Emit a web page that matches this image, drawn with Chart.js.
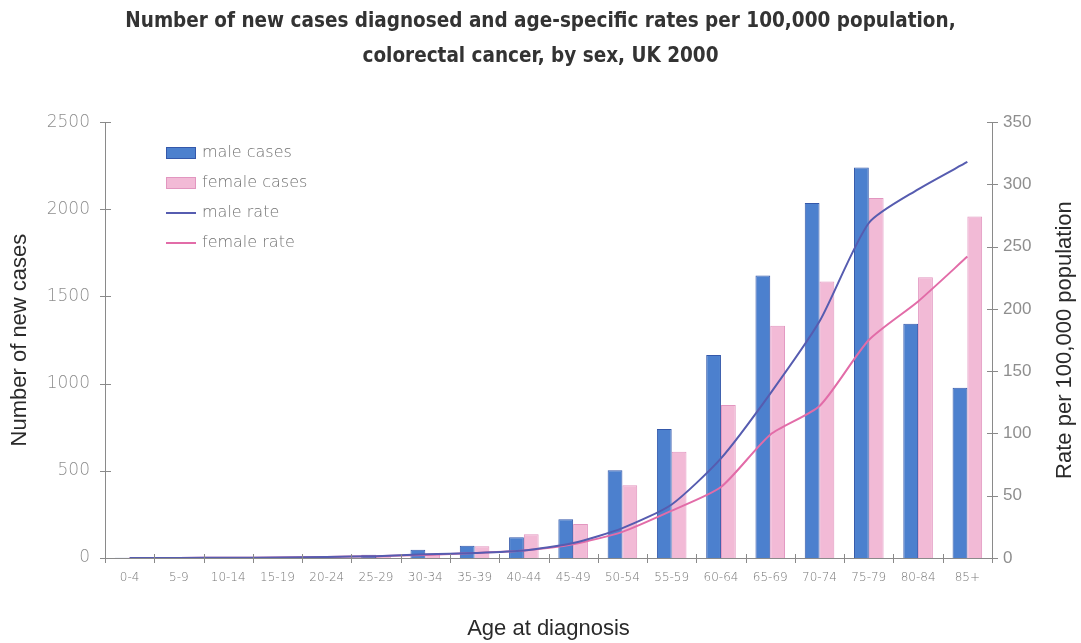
<!DOCTYPE html>
<html>
<head>
<meta charset="utf-8">
<script src="https://cdn.jsdelivr.net/npm/chart.js@4.4.1/dist/chart.umd.min.js"></script>
<style>
  html, body { margin: 0; padding: 0; background: #ffffff; }
  #wrap { width: 1081px; height: 643px; }
</style>
</head>
<body>
<div id="wrap"><canvas id="c" width="1081" height="643"></canvas></div>
<script>
// Age bands
const ageGroups = ['0-4', '5-9', '10-14', '15-19', '20-24', '25-29', '30-34', '35-39', '40-44',
                   '45-49', '50-54', '55-59', '60-64', '65-69', '70-74', '75-79', '80-84', '85+'];

// Number of new cases (left axis)
const maleCases   = [1, 1, 2, 4, 8, 18, 48, 70, 119, 222, 503, 740, 1165, 1620, 2036, 2240, 1343, 977];
const femaleCases = [1, 1, 2, 4, 9, 16, 25, 68, 136, 195, 417, 610, 878, 1332, 1586, 2065, 1610, 1958];

// Age-specific rate per 100,000 (right axis)
const maleRate   = [0.1, 0.1, 0.2, 0.4, 0.8, 1.5, 3, 4, 6, 12, 24, 43, 80, 132, 190, 269, 296, 318];
const femaleRate = [0.1, 0.1, 0.2, 0.4, 0.8, 1.5, 2.5, 4, 6, 11, 21, 38, 57, 99, 122, 175, 206, 242];

const caseTicks = [0, 500, 1000, 1500, 2000, 2500];
const rateTicks = [0, 50, 100, 150, 200, 250, 300, 350];

const titleLines = ['Number of new cases diagnosed and age-specific rates per 100,000 population,',
                    'colorectal cancer, by sex, UK 2000'];

const COL = {
  maleFill: 'rgb(76,128,206)', maleEdge: 'rgb(52,88,170)',
  femFill: 'rgb(242,186,214)', femEdge: 'rgb(226,150,192)',
  maleLine: 'rgb(86,92,176)', femLine: 'rgb(226,108,168)',
  axis: '#8a8a8a', text: '#2a2a2a'
};

// Axis lines with ticks that cross the axis on both sides, plus legend and right-hand title
const decor = {
  id: 'decor',
  afterDraw(chart) {
    const ctx = chart.ctx;
    const a = chart.chartArea;
    const x = chart.scales.x, y = chart.scales.y, y1 = chart.scales.y1;
    ctx.save();
    ctx.strokeStyle = COL.axis;
    ctx.lineWidth = 1;
    ctx.beginPath();
    ctx.moveTo(Math.round(a.left) + 0.5, a.top); ctx.lineTo(Math.round(a.left) + 0.5, a.bottom);
    ctx.moveTo(Math.round(a.right) + 0.5, a.top); ctx.lineTo(Math.round(a.right) + 0.5, a.bottom);
    ctx.moveTo(a.left, Math.round(a.bottom) + 0.5); ctx.lineTo(a.right, Math.round(a.bottom) + 0.5);
    caseTicks.forEach(v => {
      const py = Math.round(y.getPixelForValue(v)) + 0.5;
      ctx.moveTo(a.left - 5, py); ctx.lineTo(a.left + 6, py);
    });
    rateTicks.forEach(v => {
      const py = Math.round(y1.getPixelForValue(v)) + 0.5;
      ctx.moveTo(a.right - 5, py); ctx.lineTo(a.right + 6, py);
    });
    const half = (x.getPixelForValue(1) - x.getPixelForValue(0)) / 2;
    for (let i = 0; i <= ageGroups.length; i++) {
      const px = Math.round(x.getPixelForValue(i) - half) + 0.5;
      ctx.moveTo(px, a.bottom - 4); ctx.lineTo(px, a.bottom + 5);
    }
    ctx.stroke();

    // right axis title, reading bottom to top
    ctx.fillStyle = COL.text;
    ctx.font = '22px "Liberation Sans", Arial, sans-serif';
    ctx.textAlign = 'center';
    ctx.textBaseline = 'middle';
    ctx.translate(1065, (a.top + a.bottom) / 2);
    ctx.rotate(-Math.PI / 2);
    ctx.fillText('Rate per 100,000 population', 0, 0);
    ctx.restore();

    // legend inside the plot
    ctx.save();
    const items = chart.data.datasets;
    const lx = 166, ly = 153, gap = 30;
    ctx.font = '200 16px "DejaVu Sans", sans-serif';
    ctx.textBaseline = 'middle';
    ctx.textAlign = 'left';
    items.forEach((ds, i) => {
      const cy = ly + i * gap;
      if (ds.type === 'line') {
        ctx.strokeStyle = ds.borderColor;
        ctx.lineWidth = 2;
        ctx.beginPath(); ctx.moveTo(lx, cy); ctx.lineTo(lx + 30, cy); ctx.stroke();
      } else {
        ctx.fillStyle = ds.backgroundColor;
        ctx.fillRect(lx, cy - 6, 30, 12);
        ctx.strokeStyle = ds.borderColor;
        ctx.lineWidth = 1;
        ctx.strokeRect(lx + 0.5, cy - 5.5, 29, 11);
      }
      ctx.fillStyle = '#727272';
      ctx.fillText(ds.label, lx + 36, cy);
    });
    ctx.restore();
  }
};

new Chart(document.getElementById('c'), {
  data: {
    labels: ageGroups,
    datasets: [
      { type: 'bar', label: 'male cases', data: maleCases, yAxisID: 'y',
        backgroundColor: COL.maleFill, borderColor: COL.maleEdge, borderWidth: 1,
        categoryPercentage: 0.6, barPercentage: 1.0, order: 2 },
      { type: 'bar', label: 'female cases', data: femaleCases, yAxisID: 'y',
        backgroundColor: COL.femFill, borderColor: COL.femEdge, borderWidth: 1,
        categoryPercentage: 0.6, barPercentage: 1.0, order: 2 },
      { type: 'line', label: 'male rate', data: maleRate, yAxisID: 'y1',
        borderColor: COL.maleLine, backgroundColor: COL.maleLine, borderWidth: 2,
        pointRadius: 0, tension: 0.22, order: 1 },
      { type: 'line', label: 'female rate', data: femaleRate, yAxisID: 'y1',
        borderColor: COL.femLine, backgroundColor: COL.femLine, borderWidth: 2,
        pointRadius: 0, tension: 0.22, order: 1 }
    ]
  },
  options: {
    responsive: false,
    animation: false,
    devicePixelRatio: 1,
    layout: { padding: 0 },
    plugins: {
      legend: { display: false },
      tooltip: { enabled: false },
      title: {
        display: true,
        text: titleLines,
        color: '#333333',
        font: { family: '"DejaVu Sans Condensed", "DejaVu Sans", sans-serif', size: 20.5, weight: 'bold', lineHeight: 1.71 },
        padding: { top: 4, bottom: 48 }
      }
    },
    scales: {
      x: {
        grid: { display: false, drawTicks: false },
        border: { display: false },
        ticks: { color: '#777777', padding: 13, maxRotation: 0, autoSkip: false,
                 font: { family: '"DejaVu Sans", sans-serif', size: 12, weight: 200 } },
        title: { display: true, text: 'Age at diagnosis', color: COL.text, padding: { top: 0, bottom: 1 },
                 font: { family: '"Liberation Sans", Arial, sans-serif', size: 22 } },
        afterFit: s => { s.height = 85; }
      },
      y: {
        position: 'left', min: 0, max: 2500,
        afterBuildTicks: s => { s.ticks = caseTicks.map(v => ({ value: v })); },
        grid: { display: false, drawTicks: false },
        border: { display: false },
        ticks: { color: '#8e8e8e', padding: 15, callback: v => String(v),
                 font: { family: '"DejaVu Sans", sans-serif', size: 17, weight: 200 } },
        title: { display: true, text: 'Number of new cases', color: COL.text, padding: { top: 7, bottom: 0 },
                 font: { family: '"Liberation Sans", Arial, sans-serif', size: 22 } },
        afterFit: s => { s.width = 105; }
      },
      y1: {
        position: 'right', min: 0, max: 350,
        afterBuildTicks: s => { s.ticks = rateTicks.map(v => ({ value: v })); },
        grid: { display: false, drawTicks: false },
        border: { display: false },
        ticks: { color: '#8e8e8e', padding: 11, callback: v => String(v),
                 font: { family: '"Liberation Sans Narrow", "Liberation Sans", sans-serif', size: 17 } },
        afterFit: s => { s.width = 89; }
      }
    }
  },
  plugins: [decor]
});
</script>
</body>
</html>
